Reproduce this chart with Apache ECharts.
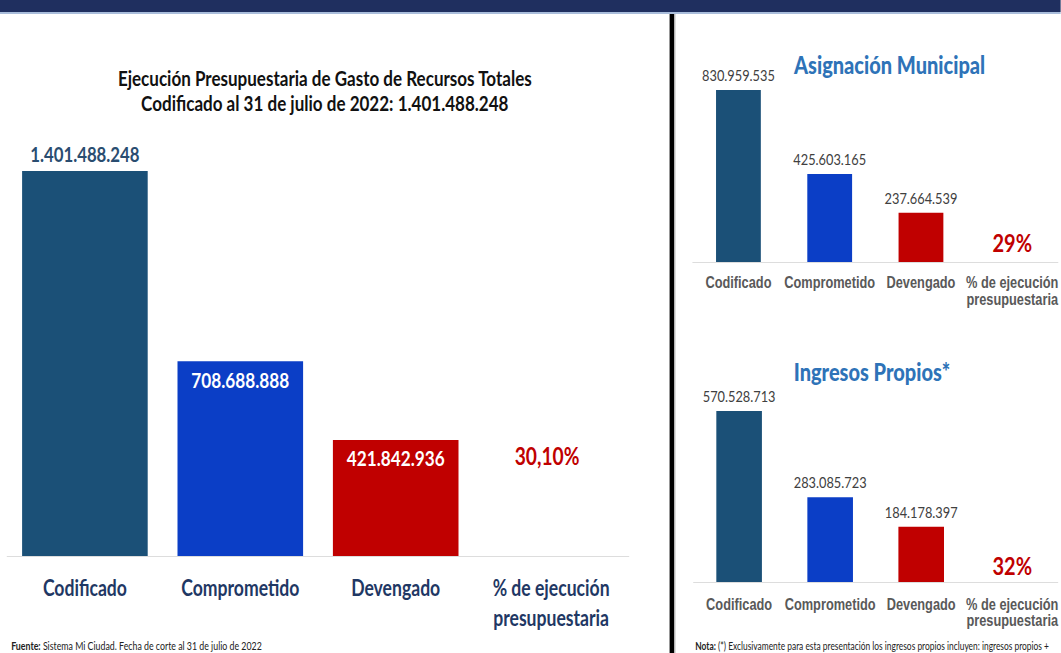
<!DOCTYPE html>
<html>
<head>
<meta charset="utf-8">
<script src="https://cdn.jsdelivr.net/npm/echarts@6/dist/echarts.min.js"></script>
<style>
  html, body { margin: 0; padding: 0; background: #fff; overflow: hidden; }
  /* la lamina original esta comprimida en horizontal: se dibuja mas ancha y se escala */
  #main { width: 1326px; height: 653px; transform: scaleX(0.8); transform-origin: 0 0; }
</style>
</head>
<body>
<div id="main"></div>
<script>
// categorias (iguales en los tres graficos)
const categories = ['Codificado', 'Comprometido', 'Devengado', '% de ejecución\npresupuestaria'];

// Recursos totales
const totalValues = [1401488248, 708688888, 421842936];
const totalPct = '30,10%';

// Asignacion municipal
const municipalValues = [830959535, 425603165, 237664539];
const municipalPct = '29%';

// Ingresos propios
const propiosValues = [570528713, 283085723, 184178397];
const propiosPct = '32%';

const barColors = ['#1b5077', '#0b3ec6', '#c00000'];
const CAL = 'Lato, "Open Sans", sans-serif';
const ARIAL = '"Liberation Sans", Arial, sans-serif';

const fmt = (v) => String(v).replace(/\B(?=(\d{3})+(?!\d))/g, '.');

// arma los datos: 3 barras + una barra invisible que solo lleva el porcentaje
function buildData(values, pct, opts) {
  const data = values.map((v, i) => ({
    value: v,
    itemStyle: { color: barColors[i] },
    label: i === 0 || !opts.innerLabel ? opts.valueLabel : opts.innerLabel
  }));
  data.push({
    value: values[2],
    itemStyle: { color: 'rgba(0,0,0,0)' },
    label: Object.assign({ formatter: pct }, opts.pctLabel)
  });
  return data;
}

const chart = echarts.init(document.getElementById('main'), null, { renderer: 'svg' });

const noteStyle = (size) => ({
  fontFamily: CAL, fontSize: size, fontWeight: 'normal', color: '#222',
  rich: { b: { fontFamily: CAL, fontSize: size, fontWeight: 'bold', color: '#222' } }
});

const option = {
  animation: false,
  title: [
    {
      text: 'Ejecución Presupuestaria de Gasto de Recursos Totales\nCodificado al 31 de julio de 2022: 1.401.488.248',
      left: 406, top: 65, textAlign: 'center', padding: 0,
      textStyle: { fontFamily: CAL, fontSize: 21.3, fontWeight: 'bold', color: '#111', lineHeight: 25 }
    },
    {
      text: 'Asignación Municipal',
      left: 1112, top: 52, textAlign: 'center', padding: 0,
      textStyle: { fontFamily: CAL, fontSize: 25, fontWeight: 900, color: '#2e73b8' }
    },
    {
      text: 'Ingresos Propios*',
      left: 1090, top: 359, textAlign: 'center', padding: 0,
      textStyle: { fontFamily: CAL, fontSize: 25, fontWeight: 900, color: '#2e73b8' }
    },
    {
      text: '{b|Fuente:} Sistema Mi Ciudad. Fecha de corte al 31 de julio de 2022',
      left: 14, top: 640, padding: 0, textStyle: noteStyle(11)
    },
    {
      text: '{b|Nota:} (*) Exclusivamente para esta presentación los ingresos propios incluyen: ingresos propios +',
      left: 869, top: 641, padding: 0, textStyle: noteStyle(10.5)
    }
  ],
  graphic: [
    { type: 'rect', shape: { x: 0, y: 0, width: 1326, height: 12 }, style: { fill: '#1f2f5f' }, z: 10 },
    { type: 'rect', shape: { x: 0, y: 12, width: 1326, height: 2 }, style: { fill: '#a9bddb' }, z: 10 },
    { type: 'rect', shape: { x: 837, y: 14, width: 6, height: 639 }, style: { fill: '#000' }, z: 10 },
    { type: 'rect', shape: { x: 843, y: 14, width: 1.5, height: 639 }, style: { fill: '#c8c8c8' }, z: 10 }
  ],
  grid: [
    { left: 9, right: 540, top: 171, bottom: 97 },
    { left: 866, right: 3, top: 90, bottom: 391 },
    { left: 867, right: 3, top: 411, bottom: 71 }
  ],
  xAxis: [
    {
      type: 'category', gridIndex: 0, data: categories,
      axisLine: { lineStyle: { color: '#d9d9d9', width: 1 } },
      axisTick: { show: false },
      axisLabel: {
        interval: 0, margin: 16, fontFamily: CAL, fontSize: 22,
        fontWeight: 'bold', color: '#1f3864', lineHeight: 30
      }
    },
    {
      type: 'category', gridIndex: 1, data: categories,
      axisLine: { lineStyle: { color: '#d9d9d9', width: 1 } },
      axisTick: { show: false },
      axisLabel: {
        interval: 0, margin: 12, fontFamily: ARIAL, fontSize: 16,
        fontWeight: 'bold', color: '#595959', lineHeight: 17
      }
    },
    {
      type: 'category', gridIndex: 2, data: categories,
      axisLine: { lineStyle: { color: '#d9d9d9', width: 1 } },
      axisTick: { show: false },
      axisLabel: {
        interval: 0, margin: 14, fontFamily: ARIAL, fontSize: 16,
        fontWeight: 'bold', color: '#595959', lineHeight: 16
      }
    }
  ],
  yAxis: [
    { type: 'value', gridIndex: 0, min: 0, max: 'dataMax', show: false, splitLine: { show: false } },
    { type: 'value', gridIndex: 1, min: 0, max: 'dataMax', show: false, splitLine: { show: false } },
    { type: 'value', gridIndex: 2, min: 0, max: 'dataMax', show: false, splitLine: { show: false } }
  ],
  series: [
    {
      type: 'bar', xAxisIndex: 0, yAxisIndex: 0, barWidth: 157,
      data: buildData(totalValues, totalPct, {
        valueLabel: {
          show: true, position: 'top', distance: 7, formatter: (p) => fmt(p.value),
          fontFamily: CAL, fontSize: 21, fontWeight: 'bold', color: '#2a4d70'
        },
        innerLabel: {
          show: true, position: 'insideTop', distance: 7, formatter: (p) => fmt(p.value),
          fontFamily: CAL, fontSize: 21.5, fontWeight: 'bold', color: '#fff'
        },
        pctLabel: {
          show: true, position: 'insideTop', distance: 4, offset: [-5, 0],
          fontFamily: CAL, fontSize: 24, fontWeight: 'bold', color: '#c00000'
        }
      })
    },
    {
      type: 'bar', xAxisIndex: 1, yAxisIndex: 1, barWidth: 56,
      data: buildData(municipalValues, municipalPct, {
        valueLabel: {
          show: true, position: 'top', distance: 7, formatter: (p) => fmt(p.value),
          fontFamily: CAL, fontSize: 16, color: '#404040'
        },
        pctLabel: {
          show: true, position: 'inside', offset: [0, 5],
          fontFamily: CAL, fontSize: 25, fontWeight: 'bold', color: '#c00000'
        }
      })
    },
    {
      type: 'bar', xAxisIndex: 2, yAxisIndex: 2, barWidth: 57,
      data: buildData(propiosValues, propiosPct, {
        valueLabel: {
          show: true, position: 'top', distance: 7, formatter: (p) => fmt(p.value),
          fontFamily: CAL, fontSize: 16, color: '#404040'
        },
        pctLabel: {
          show: true, position: 'inside', offset: [0, 11],
          fontFamily: CAL, fontSize: 25, fontWeight: 'bold', color: '#c00000'
        }
      })
    }
  ]
};

chart.setOption(option);
</script>
</body>
</html>
